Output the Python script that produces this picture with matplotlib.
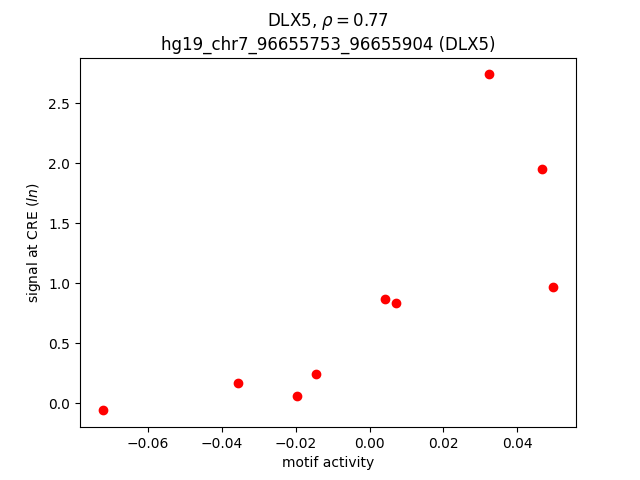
import matplotlib
matplotlib.use("Agg")
import matplotlib.pyplot as plt

# motif activity vs signal at CRE
motif_activity = [-0.0723, -0.0357, -0.0197, -0.0145, 0.0042, 0.0072, 0.0324, 0.0468, 0.0498]
signal = [-0.058, 0.167, 0.058, 0.242, 0.867, 0.833, 2.742, 1.95, 0.967]

gene = "DLX5"
rho = 0.77
cre = "hg19_chr7_96655753_96655904"

fig = plt.figure(figsize=(6.4, 4.8), dpi=100)
plt.scatter(motif_activity, signal, color="red")
plt.xlabel("motif activity")
plt.ylabel(r"signal at CRE ($ln$)")
plt.title(gene + r", $\rho=$" + "%.2f" % rho + "\n" + cre + " (" + gene + ")")
plt.savefig("out.png")
